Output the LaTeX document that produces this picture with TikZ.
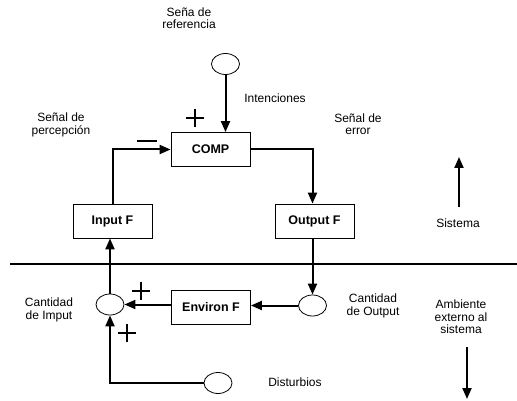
\documentclass[tikz,border=0pt]{standalone}
\usepackage{fontspec}
\setmainfont{Liberation Sans}
\usetikzlibrary{arrows.meta,shapes.geometric,positioning}

\begin{document}
\begin{tikzpicture}[x=1pt,y=-1pt,->,>={Triangle[length=11pt,width=9pt]},line width=2pt,
    font=\fontsize{12}{12.5}\selectfont,
    block node/.style={rectangle,draw,line width=0.8pt,minimum width=79pt,minimum height=34pt,font=\fontsize{12.5}{13}\selectfont\bfseries},
    sum node/.style={ellipse,draw,line width=0.8pt,minimum width=28pt,minimum height=21pt,inner sep=0pt},
    txt node/.style={align=center,inner sep=0pt},
    sign/.style={-,line width=1.8pt}]

\useasboundingbox (0,0) rectangle (517,401);

\node[sum node]   (ref)   at (225.5,64)  {};
\node[block node] (comp)  at (210.5,149.5) {COMP};
\node[block node] (inF)   at (112.5,221) {Input F};
\node[block node] (outF)  at (314.5,221) {Output F};
\node[block node] (envF)  at (211,307.5) {Environ F};
\node[sum node]   (qi)    at (110,304.5) {};
\node[sum node]   (qo)    at (312.5,305.5) {};
\node[sum node]   (dist)  at (218,383)   {};

\node[txt node] (refl)  at (189,18)  {Seña de\\referencia};
\node[txt node] (intl)  at (275,98)  {Intenciones};
\node[txt node] (percl) at (61,125)  {Señal de\\percepción};
\node[txt node] (errl)  at (358,124) {Señal de\\error};
\node[txt node] (sysl)  at (458,223) {Sistema};
\node[txt node] (qil)   at (49,310)  {Cantidad\\de Imput};
\node[txt node] (qol)   at (373,306) {Cantidad\\de Output};
\node[txt node] (ambl)  at (461,317) {Ambiente\\externo al\\sistema};
\node[txt node] (distl) at (295,382) {Disturbios};

\coordinate (sysbot) at (459,207);
\coordinate (systop) at (459,157);
\coordinate (ambtop) at (467,347);
\coordinate (ambbot) at (467,399);

% loop
\draw (ref.south) -- (ref.south |- comp.north);
\draw (comp.east) -| (qo.north |- outF.north);
\draw (qo.north |- outF.south) -- (qo.north);
\draw (qo.west) -- (qo.west -| envF.east);
\draw (envF.west |- qi.east) -- (qi.east);
\draw (qi.north) -- (qi.north |- inF.south);
\draw (inF.north) |- (comp.west);
\draw (dist.west) -| (qi.south);

\draw (sysbot) -- (systop);
\draw (ambtop) -- (ambbot);
\draw[-] (10,264) -- (517,264);

% signs
\draw[sign] (186,118) -- (204,118) (195,109) -- (195,127);
\draw[sign] (137,141) -- (157,141);
\draw[sign] (132,291) -- (150,291) (141,282) -- (141,300);
\draw[sign] (118,333) -- (136,333) (127,324) -- (127,342);
\end{tikzpicture}
\end{document}
